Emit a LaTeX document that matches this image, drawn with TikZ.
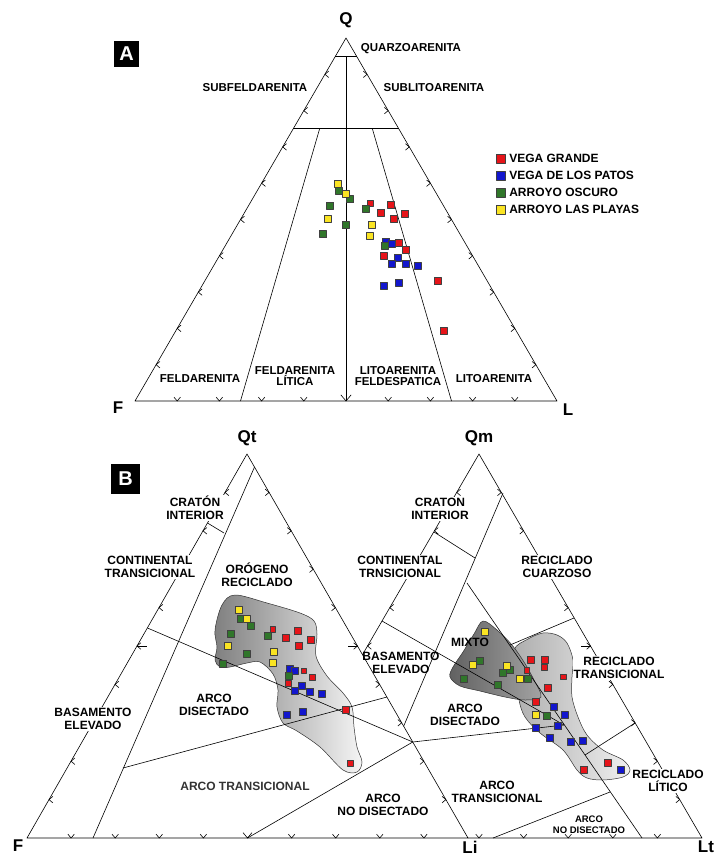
\documentclass[tikz,border=0pt]{standalone}
\usepackage{fontspec}
\setmainfont{Liberation Sans}
\usetikzlibrary{calc,arrows.meta}

\definecolor{vgrande}{RGB}{230,20,25}
\definecolor{vpatos}{RGB}{18,22,205}
\definecolor{aoscuro}{RGB}{48,118,42}
\definecolor{aplayas}{RGB}{250,228,35}

% tick chevron: [size]{point}{inward angle}
\newcommand{\chev}[3][5]{\draw (#2) ++(#3+40:#1) -- (#2) -- ++(#3-40:#1);}
\newcommand{\chevmid}[2]{\chev{#1}{#2}\draw (#1) -- ++(#2:10);}

\tikzset{
  lbl/.style={font=\bfseries\fontsize{12}{13}\selectfont, align=center, inner sep=1pt},
  lblw/.style={lbl, fill=white},
  lbla/.style={font=\bfseries\fontsize{11.5}{11.5}\selectfont, align=center, inner sep=1pt},
  vtx/.style={font=\bfseries\fontsize{17}{17}\selectfont, inner sep=0pt},
  tag/.style={fill=black, text=white, font=\bfseries\fontsize{20}{20}\selectfont, inner sep=0pt},
  smp/.style={draw=black!75, line width=0.4pt, inner sep=0pt},
  leg/.style={draw=black!75, line width=0.4pt, minimum size=9pt, inner sep=0pt},
  legtxt/.style={font=\bfseries\fontsize{12}{12}\selectfont, anchor=west, inner sep=0pt},
}

\begin{document}
\begin{tikzpicture}[x=1pt, y=-1pt, line width=0.6pt, line join=round]
\useasboundingbox (0,0) rectangle (717,857);

% ===== A : Q-F-L =====
\coordinate (Q) at (346,38);
\coordinate (F) at (135,401);
\coordinate (L) at (557,401);
\coordinate (qtop) at (346,56.2);
\coordinate (fl) at ($(F)!0.5!(L)$);
\coordinate (b1) at ($(F)!0.25!(L)$);
\coordinate (b3) at ($(F)!0.75!(L)$);
\draw (Q) -- (F) -- (L) -- cycle;
\draw ($(Q)!0.05!(F)$) -- ($(Q)!0.05!(L)$);
\draw ($(Q)!0.25!(F)$) -- ($(Q)!0.25!(L)$);
\draw (qtop) -- (fl);
\chev[8]{fl}{-90}
\draw ($(Q)!0.25!(b1)$) -- (b1);
\draw ($(Q)!0.25!(b3)$) -- (b3);
\foreach \k in {1,...,9}{
  \chev{$(F)!\k/10!(Q)$}{0}
  \chev{$(L)!\k/10!(Q)$}{180}
}
\foreach \k in {1,2,3,4,6,7,8,9}{\chev{$(F)!\k/10!(L)$}{-90}}

\node[tag, minimum width=25pt, minimum height=26pt] (tagA) at (126.5,54) {A};
\node[vtx] (labQ) at (346,20) {Q};
\node[vtx] (labF) at (118,408) {F};
\node[vtx] (labL) at (568,410) {L};
\node[lbla] (quarzo) at (411,49) {QUARZOARENITA};
\node[lbla] (subfeld) at (255,88) {SUBFELDARENITA};
\node[lbla] (sublito) at (434,88) {SUBLITOARENITA};
\node[lbla] (feld) at (200,379) {FELDARENITA};
\node[lbla] (feldlit) at (295,376) {FELDARENITA\\LÍTICA};
\node[lbla] (litofeld) at (398,376) {LITOARENITA\\FELDESPATICA};
\node[lbla] (lito) at (494,379) {LITOARENITA};

% legend
\node[leg, fill=vgrande] (lg1) at (500.5,158.5) {};
\node[leg, fill=vpatos] (lg2) at (500.5,175.5) {};
\node[leg, fill=aoscuro] (lg3) at (500.5,192.5) {};
\node[leg, fill=aplayas] (lg4) at (500.5,209.5) {};
\node[legtxt] (lt1) at (509,158.5) {VEGA GRANDE};
\node[legtxt] (lt2) at (509,175.5) {VEGA DE LOS PATOS};
\node[legtxt] (lt3) at (509,192.5) {ARROYO OSCURO};
\node[legtxt] (lt4) at (509,209.5) {ARROYO LAS PLAYAS};

% samples A
\foreach \px/\py/\s [count=\i] in {370/203.3/5.5,391/205/7,381/212.7/7,405/213.3/7,394/219/7,398.3/243/7,406/249.7/7,383.3/255.3/7,437.7/281/7,443.3/331/7}
  \node[smp, fill=vgrande, minimum size=\s pt] (ra\i) at (\px,\py) {};
\foreach \px/\py [count=\i] in {386/241.3,392/243.7,397.7/257.7,391.7/263.7,406/263.3,417.3/265.3,383.3/285.7,398.7/282.7}
  \node[smp, fill=vpatos, minimum size=7pt] (ba\i) at (\px,\py) {};
\foreach \px/\py [count=\i] in {339/191,350/199,330/205.7,365.7/208.3,345.3/225,323/234,384.3/245.7}
  \node[smp, fill=aoscuro, minimum size=7pt] (ga\i) at (\px,\py) {};
\foreach \px/\py [count=\i] in {337.3/184,346/193.3,327.3/219,371.7/224.3,369.3/235.7}
  \node[smp, fill=aplayas, minimum size=7pt] (ya\i) at (\px,\py) {};

% ===== B : fields =====
\coordinate (Qt) at (247,454);
\coordinate (Fb) at (27,838);
\coordinate (Li) at (468,838);
\coordinate (Qm) at (479,454);
\coordinate (Fm) at (256,838);
\coordinate (Lt) at (702,838);
\coordinate (J) at (412.75,742);

% sample fields (shaded)
\shade[draw=black!80, line width=0.5pt, left color=black!50, right color=black!4]
  plot[smooth cycle, tension=0.55] coordinates {(222,605) (235,595) (267,603) (300,613) (314,621) (317,634) (316,656) (327,676) (343,693) (352,707) (354,727) (357,747) (362,762) (357,772) (343,770) (320,747) (297,731) (283,723) (277,707) (278,690) (273,674) (260,662) (247,663) (230,667) (220,667) (215,660) (217,647) (215,630)};
\shade[draw=black!80, line width=0.5pt, left color=black!32, right color=black!6]
  plot[smooth cycle, tension=0.55] coordinates {(514,650) (528,639) (543,633) (557,635) (567,643) (573,660) (572,677) (572,697) (578,717) (587,735) (603,750) (623,760) (630,770) (623,777) (603,780) (587,778) (577,770) (563,750) (540,733) (525,717) (519,700) (517,677)};
\shade[draw=black!80, line width=0.5pt, left color=black!62, right color=black!36]
  plot[smooth cycle, tension=0.55] coordinates {(483,621) (497,630) (512,645) (524,662) (534,680) (541,697) (525,700) (505,697) (480,691) (460,686) (450,677) (453,667) (463,652) (474,634)};

% Qt-F-Li
\draw (Qt) -- (Fb) -- (Li) -- cycle;
\draw (254.5,467) -- (93,838);
\draw (207.5,523) -- (224,533);
\draw (147.5,628) -- (J);
\draw (123,768) -- (387,697);
\draw ($(Fb)!0.5!(Li)$) -- (J);
\foreach \k in {1,2,3,4,6,7,8,9}{
  \chev{$(Fb)!\k/10!(Qt)$}{0}
  \chev{$(Li)!\k/10!(Qt)$}{180}
  \chev{$(Fb)!\k/10!(Li)$}{-90}
}
\chevmid{$(Fb)!0.5!(Qt)$}{0}
\chevmid{$(Li)!0.5!(Qt)$}{180}
\chev[7]{$(Fb)!0.5!(Li)$}{-90}

% Qm-F-Lt, hidden inside the first triangle
\begin{scope}
\clip (215.9,400) -- (497.9,890) -- (717,890) -- (717,400) -- cycle;
\draw (Qm) -- (Fm) -- (Lt) -- cycle;
\draw (503,493) -- (356,838);
\draw (434,532) -- (475,558);
\draw (382,621) -- (564,725);
\draw (467,583) -- (642,838);
\draw (J) -- (564,725);
\draw (574,618) -- (510,645);
\draw (585,755) -- (635,723);
\draw (493,838) -- (610,792);
\foreach \k in {1,2,3,4,6,7,8,9}{
  \chev{$(Fm)!\k/10!(Qm)$}{0}
  \chev{$(Lt)!\k/10!(Qm)$}{180}
  \chev{$(Fm)!\k/10!(Lt)$}{-90}
}
\chev{$(Fm)!0.5!(Qm)$}{0}
\chevmid{$(Lt)!0.5!(Qm)$}{180}
\chev{$(Fm)!0.5!(Lt)$}{-90}
\end{scope}

\node[tag, minimum width=29pt, minimum height=30pt] (tagB) at (125.5,479) {B};
\node[vtx] (labQt) at (247,438) {Qt};
\node[vtx] (labQm) at (479,438) {Qm};
\node[vtx] (labFb) at (18,846) {F};
\node[vtx] (labLi) at (470,847) {Li};
\node[vtx] (labLt) at (706,847) {Lt};

\node[lblw] (craton1) at (195,508) {CRATÓN\\INTERIOR};
\node[lblw] (contin1) at (150,567) {CONTINENTAL\\TRANSICIONAL};
\node[lbl] (orogeno) at (257,575) {ORÓGENO\\RECICLADO};
\node[lblw] (basam1) at (93,719) {BASAMENTO\\ELEVADO};
\node[lbl] (disec1) at (214,705) {ARCO\\DISECTADO};
\node[lbl, text=black!80] (trans1) at (245,786) {ARCO TRANSICIONAL};
\node[lbl] (nodis1) at (383,805) {ARCO\\NO DISECTADO};

\node[lblw] (craton2) at (440,509) {CRATON\\INTERIOR};
\node[lblw] (contin2) at (400,567) {CONTINENTAL\\TRNSICIONAL};
\node[lblw] (cuarzo) at (557,567) {RECICLADO\\CUARZOSO};
\node[lbl] (mixto) at (470,642) {MIXTO};
\node[lbl] (basam2) at (401,663) {BASAMENTO\\ELEVADO};
\node[lblw] (rtrans) at (619,668) {RECICLADO\\TRANSICIONAL};
\node[lbl] (disec2) at (465,715) {ARCO\\DISECTADO};
\node[lbl] (trans2) at (497,792) {ARCO\\TRANSICIONAL};
\node[lblw] (rlitico) at (668,781) {RECICLADO\\LÍTICO};
\node[font=\bfseries\fontsize{9.5}{11}\selectfont, align=center, inner sep=1pt] (nodis2) at (589,825) {ARCO\\NO DISECTADO};

% samples B
\foreach \px/\py/\s [count=\i] in {272.7/629/5.5,297.3/631/7,285.3/638/7,311/640/7,299/645.7/7,303.7/670.7/5.5,311.7/677.3/6,288.3/682.7/6,345.3/709.3/7,350.3/763/5.5,530.7/659.3/7,544.3/659.3/7,544.3/667.3/5.5,526.7/670/5.5,563.3/676.7/5.5,547.3/687.7/7,536/701.7/7,584/769.3/7,607.7/762.7/7}
  \node[smp, fill=vgrande, minimum size=\s pt] (rb\i) at (\px,\py) {};
\foreach \px/\py [count=\i] in {289.3/668.3,295/670.7,301.3/685.7,294.3/690.7,310/691.3,321.3/693.3,286.7/714.7,302.7/712,554/706.7,564.7/715,558/726,536/727.3,550/738,570.7/741.3,582.7/740.7,621/770}
  \node[smp, fill=vpatos, minimum size=7pt] (bb\i) at (\px,\py) {};
\foreach \px/\py [count=\i] in {240.7/619,250.7/625.3,230.7/633.3,267.7/635.7,246.7/653.7,222.3/663.3,288.7/675.3,480/660.7,463.3/679,502.7/672.3,510/670,527.3/678.3,497.7/685,546.7/716}
  \node[smp, fill=aoscuro, minimum size=7pt] (gb\i) at (\px,\py) {};
\foreach \px/\py [count=\i] in {238.3/609.3,246.7/619,227.3/645.7,274/652,272.3/663,485/631.7,472.7/665,506.7/665.7,520/679,536/714.3}
  \node[smp, fill=aplayas, minimum size=7pt] (yb\i) at (\px,\py) {};
\end{tikzpicture}
\end{document}
